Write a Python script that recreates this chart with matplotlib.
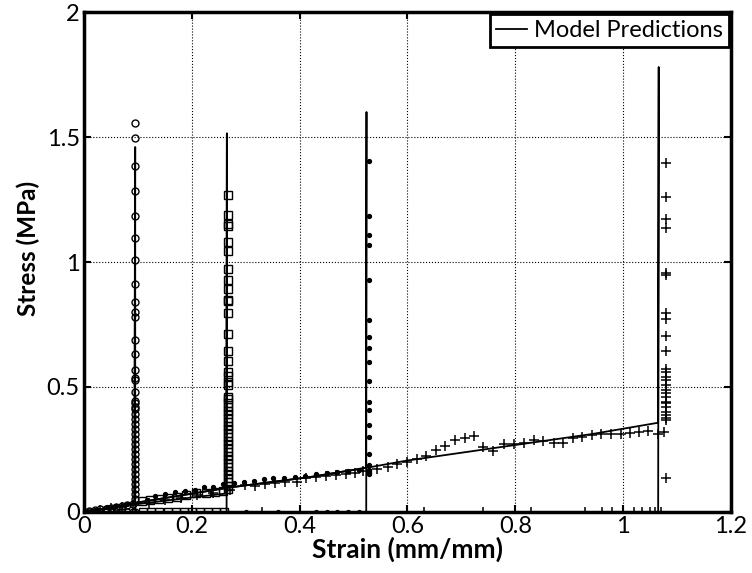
import matplotlib
matplotlib.use('Agg')
import matplotlib.pyplot as plt

plt.rcParams['font.family'] = ['Lato', 'DejaVu Sans']

# model predictions (one curve per test): ramp, vertical rise, drop back to zero
model_a_strain = [0.0, 0.05, 0.093, 0.095, 0.095]
model_a_stress = [0.0, 0.018, 0.034, 1.46, 0.0]
model_b_strain = [0.0, 0.1, 0.2, 0.264, 0.265, 0.2645]
model_b_stress = [0.0, 0.032, 0.058, 0.074, 1.515, 0.0]
model_c_strain = [0.0, 0.1, 0.27, 0.42, 0.523, 0.524, 0.5235]
model_c_stress = [0.0, 0.038, 0.098, 0.14, 0.177, 1.60, 0.0]
model_d_strain = [0.0, 0.1, 0.27, 0.42, 0.525, 0.6, 0.8, 0.943, 1.065, 1.066, 1.065]
model_d_stress = [0.0, 0.038, 0.098, 0.14, 0.177, 0.206, 0.268, 0.312, 0.357, 1.78, 0.0]

# test 1 (circles)
circ_strain = [0.0, 0.01, 0.02, 0.03, 0.04, 0.05, 0.06, 0.07, 0.08, 0.09,
               0.01, 0.02, 0.03, 0.04, 0.05, 0.06, 0.07, 0.08, 0.09,
               0.094, 0.094, 0.094, 0.094, 0.094, 0.094, 0.094, 0.094, 0.094, 0.094,
               0.094, 0.094, 0.094, 0.094, 0.094, 0.094, 0.094, 0.094, 0.094, 0.094,
               0.094, 0.094, 0.094, 0.094, 0.094, 0.094, 0.094, 0.094, 0.094, 0.094,
               0.094, 0.094, 0.094, 0.094, 0.094, 0.094, 0.094, 0.094, 0.094, 0.094]
circ_stress = [0.0, 0.0, 0.0, 0.0, 0.0, 0.0, 0.0, 0.0, 0.0, 0.0,
               0.004, 0.007, 0.01, 0.013, 0.016, 0.02, 0.023, 0.026, 0.03,
               0.05, 0.07, 0.09, 0.11, 0.13, 0.15, 0.17, 0.19, 0.21, 0.23,
               0.25, 0.27, 0.29, 0.31, 0.33, 0.35, 0.37, 0.39, 0.41, 0.421,
               0.436, 0.445, 0.481, 0.528, 0.535, 0.568, 0.631, 0.688, 0.78, 0.80,
               0.841, 0.912, 1.007, 1.096, 1.185, 1.285, 1.384, 1.496, 1.557, 0.0]

# test 2 (squares)
sq_strain = [0.11, 0.125, 0.14, 0.155, 0.17, 0.185, 0.2, 0.215, 0.23, 0.245, 0.26,
             0.107, 0.122, 0.139, 0.155, 0.172, 0.189, 0.208, 0.226, 0.243, 0.258,
             0.268, 0.268, 0.268, 0.268, 0.268, 0.268, 0.268, 0.268, 0.268, 0.268,
             0.268, 0.268, 0.268, 0.268, 0.268, 0.268, 0.268, 0.268, 0.268, 0.268,
             0.268, 0.268, 0.268, 0.268, 0.268, 0.268, 0.268, 0.268, 0.268, 0.268,
             0.268, 0.268, 0.268, 0.268, 0.268, 0.268, 0.268, 0.268, 0.268, 0.268,
             0.268, 0.268, 0.268, 0.268, 0.268]
sq_stress = [0.0, 0.0, 0.0, 0.0, 0.0, 0.0, 0.0, 0.0, 0.0, 0.0, 0.0,
             0.044, 0.048, 0.052, 0.057, 0.061, 0.068, 0.075, 0.077, 0.081, 0.085,
             0.09, 0.105, 0.12, 0.135, 0.15, 0.165, 0.18, 0.195, 0.21, 0.225,
             0.24, 0.255, 0.27, 0.285, 0.3, 0.315, 0.33, 0.345, 0.36, 0.375,
             0.39, 0.405, 0.42, 0.436, 0.451, 0.461, 0.508, 0.521, 0.544, 0.561,
             0.604, 0.645, 0.712, 0.796, 0.845, 0.848, 0.892, 0.928, 0.973, 1.044,
             1.079, 1.145, 1.153, 1.19, 1.27]

# test 3 (dots)
dot_strain = [0.02, 0.042, 0.06, 0.08, 0.116, 0.132, 0.150, 0.169, 0.187, 0.206,
              0.223, 0.240, 0.258, 0.278, 0.297, 0.315, 0.334, 0.351, 0.371, 0.391,
              0.41, 0.43, 0.45, 0.47, 0.49, 0.51,
              0.529, 0.529, 0.529, 0.529, 0.529, 0.529, 0.529, 0.529, 0.529, 0.529,
              0.529, 0.529, 0.529, 0.529, 0.529, 0.529, 0.529, 0.529, 0.529, 0.529, 0.529,
              0.30, 0.36, 0.43, 0.45, 0.47, 0.49, 0.51]
dot_stress = [0.008, 0.02, 0.025, 0.03, 0.048, 0.062, 0.072, 0.079, 0.084, 0.088,
              0.101, 0.101, 0.11, 0.115, 0.121, 0.125, 0.131, 0.135, 0.135, 0.14,
              0.145, 0.15, 0.155, 0.16, 0.163, 0.168,
              0.15, 0.155, 0.16, 0.165, 0.168, 0.188, 0.231, 0.299, 0.347, 0.409,
              0.441, 0.525, 0.601, 0.656, 0.701, 0.769, 0.927, 1.068, 1.108, 1.185, 1.405,
              0.0, 0.0, 0.0, 0.0, 0.0, 0.0, 0.0]

# test 4 (plus)
plus_strain = [0.03, 0.05, 0.07, 0.09, 0.12, 0.15, 0.18, 0.21, 0.24, 0.27,
               0.299, 0.317, 0.336, 0.354, 0.373, 0.395,
               0.412, 0.430, 0.449, 0.468, 0.486, 0.503, 0.518, 0.544, 0.563, 0.581,
               0.600, 0.617, 0.635, 0.652, 0.670, 0.688, 0.706, 0.724, 0.741, 0.759,
               0.779, 0.797, 0.816, 0.834, 0.852, 0.871, 0.889, 0.907, 0.924, 0.943,
               0.959, 0.978, 0.996, 1.013, 1.030, 1.047, 1.064, 1.075,
               1.079, 1.079, 1.079, 1.079, 1.079, 1.079, 1.079, 1.079, 1.079, 1.079,
               1.079, 1.079, 1.079, 1.079, 1.079, 1.079, 1.079, 1.079, 1.079, 1.079,
               1.079, 1.079, 1.079, 1.079, 1.079, 1.079,
               0.33, 0.63, 0.74, 0.83, 0.93, 0.96, 0.98, 1.0, 1.02, 1.035, 1.05, 1.06, 1.07]
plus_stress = [0.008, 0.014, 0.02, 0.027, 0.037, 0.047, 0.057, 0.066, 0.076, 0.086,
               0.108, 0.104, 0.112, 0.117, 0.121, 0.119,
               0.135, 0.139, 0.144, 0.149, 0.153, 0.157, 0.164, 0.172, 0.181, 0.191,
               0.201, 0.213, 0.224, 0.248, 0.265, 0.288, 0.295, 0.304, 0.261, 0.245,
               0.272, 0.271, 0.277, 0.288, 0.283, 0.277, 0.277, 0.295, 0.299, 0.307,
               0.31, 0.312, 0.31, 0.315, 0.318, 0.325, 0.31, 0.32,
               0.135, 0.368, 0.375, 0.388, 0.401, 0.421, 0.435, 0.441, 0.459, 0.475,
               0.488, 0.508, 0.528, 0.541, 0.56, 0.572, 0.644, 0.705, 0.771, 0.795,
               0.948, 0.957, 1.137, 1.172, 1.261, 1.395,
               0.0, 0.0, 0.0, 0.0, 0.0, 0.0, 0.0, 0.0, 0.0, 0.0, 0.0, 0.0, 0.0]

fig = plt.figure(figsize=(7.52, 5.73), dpi=100)
ax = fig.add_axes([0.1117, 0.1065, 0.8603, 0.8725])

ax.plot(circ_strain, circ_stress, linestyle='none', marker='o', ms=5,
        mfc='none', mec='black', mew=1.0)
ax.plot(sq_strain, sq_stress, linestyle='none', marker='s', ms=5.5,
        mfc='none', mec='black', mew=1.0)
ax.plot(dot_strain, dot_stress, linestyle='none', marker='o', ms=2.8,
        color='black')
ax.plot(plus_strain, plus_stress, linestyle='none', marker='+', ms=6.5,
        mec='black', mew=1.1)

ax.plot(model_a_strain, model_a_stress, color='black', lw=1.3,
        label='Model Predictions')
ax.plot(model_b_strain, model_b_stress, color='black', lw=1.3)
ax.plot(model_c_strain, model_c_stress, color='black', lw=1.3)
ax.plot(model_d_strain, model_d_stress, color='black', lw=1.3)

ax.set_xlim(0, 1.2)
ax.set_ylim(0, 2)
ax.set_xticks([0, 0.2, 0.4, 0.6, 0.8, 1.0, 1.2])
ax.set_xticklabels(['0', '0.2', '0.4', '0.6', '0.8', '1', '1.2'])
ax.set_yticks([0, 0.5, 1.0, 1.5, 2.0])
ax.set_yticklabels(['0', '0.5', '1', '1.5', '2'])
ax.tick_params(direction='in', length=5, width=1.5, labelsize=17,
               top=True, right=True, pad=3)
ax.grid(True, color='black', linestyle=':', linewidth=0.8)
for s in ax.spines.values():
    s.set_linewidth(2.5)

ax.set_xlabel('Strain (mm/mm)', fontsize=19, fontweight='bold', labelpad=0)
ax.set_ylabel('Stress (MPa)', fontsize=17.5, fontweight='bold')
ax.yaxis.set_label_coords(-0.068, 0.528)

leg = ax.legend(loc='upper right', fontsize=17, fancybox=False, framealpha=1,
                edgecolor='black', borderaxespad=0.1, handlelength=1.3,
                handletextpad=0.3, borderpad=0.25)
leg.get_frame().set_linewidth(2)

fig.savefig('out.png', dpi=100)
